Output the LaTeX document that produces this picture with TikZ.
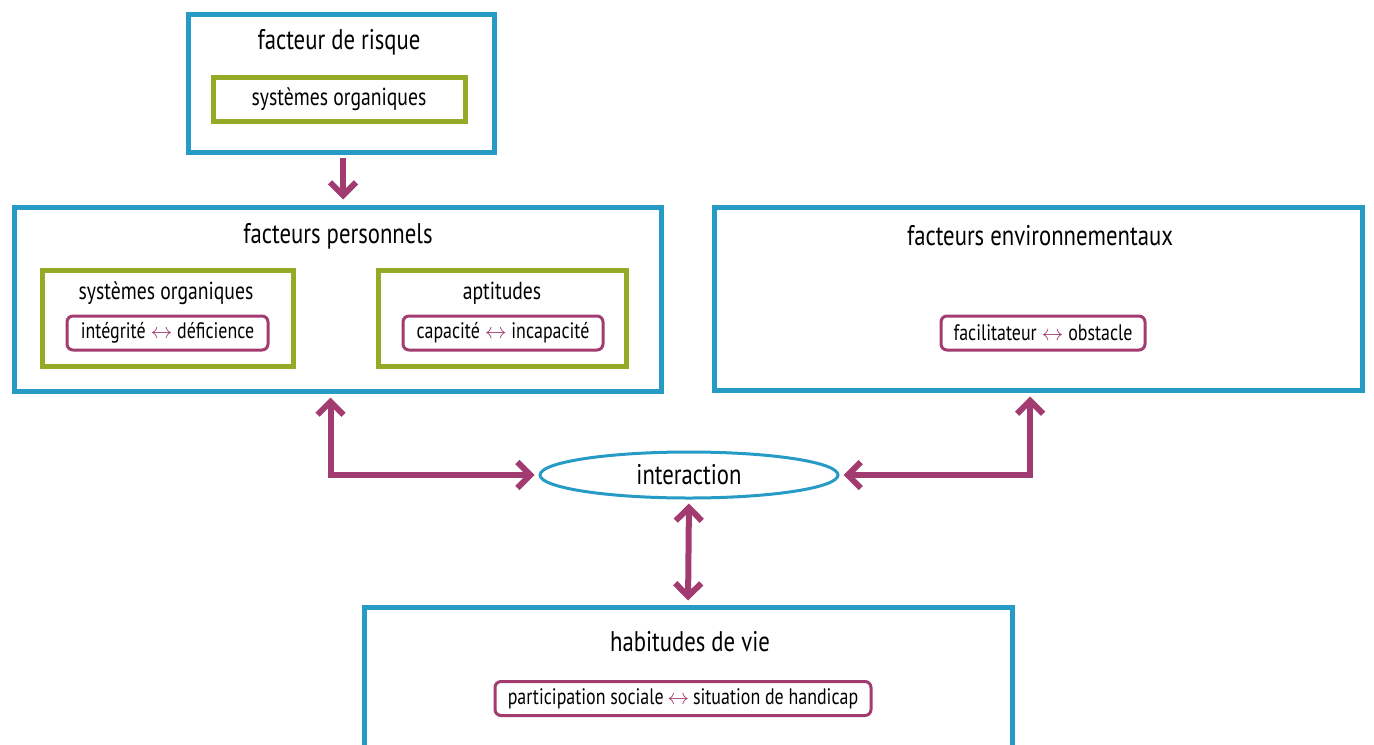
\documentclass[tikz,border=0pt]{standalone}
\usepackage{fontspec}
\setmainfont{PT Sans}[FakeStretch=0.8]
\usepackage{xcolor}
\usepackage{tikz}
\usetikzlibrary{arrows.meta, positioning, shapes.geometric, calc}
\definecolor{bleuripph}{RGB}{38,155,197}
\definecolor{vertripph}{RGB}{150,170,40}
\definecolor{mauveripph}{RGB}{162,60,112}

\newcommand{\dbl}{ {\color{mauveripph}$\leftrightarrow$} }

\begin{document}
\begin{tikzpicture}[x=0.5pt, y=-0.5pt, >={Straight Barb[length=6.5pt,width=13pt]},
        bigbox/.style={rectangle, draw=bleuripph, line width=2.5pt, fill=white},
        greenbox/.style={rectangle, draw=vertripph, line width=2.5pt},
        pairbox/.style={rectangle, draw=mauveripph, line width=1.5pt, rounded corners=3pt,
                        minimum height=17pt, inner sep=0pt, font=\fontsize{11.2}{13}\selectfont},
        title/.style={font=\fontsize{14.2}{16}\selectfont, inner sep=0pt},
        subtitle/.style={font=\fontsize{12.3}{14}\selectfont, inner sep=0pt},
        link/.style={draw=mauveripph, line width=3pt}]
      \useasboundingbox (0,0) rectangle (1374,744);
      \clip (0,0) rectangle (1374,744);

      % facteur de risque
      \node[bigbox, minimum width=153pt, minimum height=69pt] (FR) at (341,83) {};
      \node[title] (FRt) at (339,42) {facteur de risque};
      \node[greenbox, minimum width=126pt, minimum height=22pt, subtitle] (FRso) at (339,99) {systèmes organiques};

      % facteurs personnels
      \node[bigbox, minimum width=323.5pt, minimum height=92pt] (FP) at (337.5,299) {};
      \node[title] (FPt) at (338,236) {facteurs personnels};
      \node[greenbox, minimum width=125.5pt, minimum height=48pt] (SO) at (167.5,318) {};
      \node[subtitle] (SOt) at (166,293) {systèmes organiques};
      \node[pairbox, minimum width=100.5pt] (ID) at (167.5,333) {intégrité\dbl déficience};
      \node[greenbox, minimum width=124pt, minimum height=48pt] (AP) at (502,318) {};
      \node[subtitle] (APt) at (502,293) {aptitudes};
      \node[pairbox, minimum width=100pt] (CI) at (503,333) {capacité\dbl incapacité};

      % facteurs environnementaux
      \node[bigbox, minimum width=324pt, minimum height=91.5pt] (FE) at (1038,298.5) {};
      \node[title] (FEt) at (1040,236) {facteurs environnementaux};
      \node[pairbox, minimum width=102pt] (FO) at (1043,333) {facilitateur\dbl obstacle};

      % interaction
      \node[ellipse, draw=bleuripph, line width=1.5pt, minimum width=149pt, minimum height=23pt,
            inner sep=0pt, title] (INT) at (689,475) {interaction};

      % habitudes de vie
      \node[bigbox, minimum width=324pt, minimum height=83pt] (HV) at (688,690) {};
      \node[title] (HVt) at (690,642) {habitudes de vie};
      \node[pairbox, minimum width=188pt] (PS) at (683,698.5) {participation sociale\,{\color{mauveripph}$\leftrightarrow$}\,situation de handicap};

      \coordinate (FRout) at ([xshift=1pt, yshift=-1.5pt]FR.south);
      \draw[link, ->] (FRout) -- ([yshift=2.5pt]FRout |- FP.north);
      \draw[link, <->, shorten >=2pt, shorten <=2pt] ([xshift=-3.5pt]FP.south) |- (INT.west);
      \draw[link, <->, shorten >=2pt, shorten <=2pt] ([xshift=-4pt]FE.south) |- (INT.east);
      \draw[link, <->, shorten >=2pt, shorten <=2pt] (INT.south) -- (HV.north);
    \end{tikzpicture}
\end{document}
